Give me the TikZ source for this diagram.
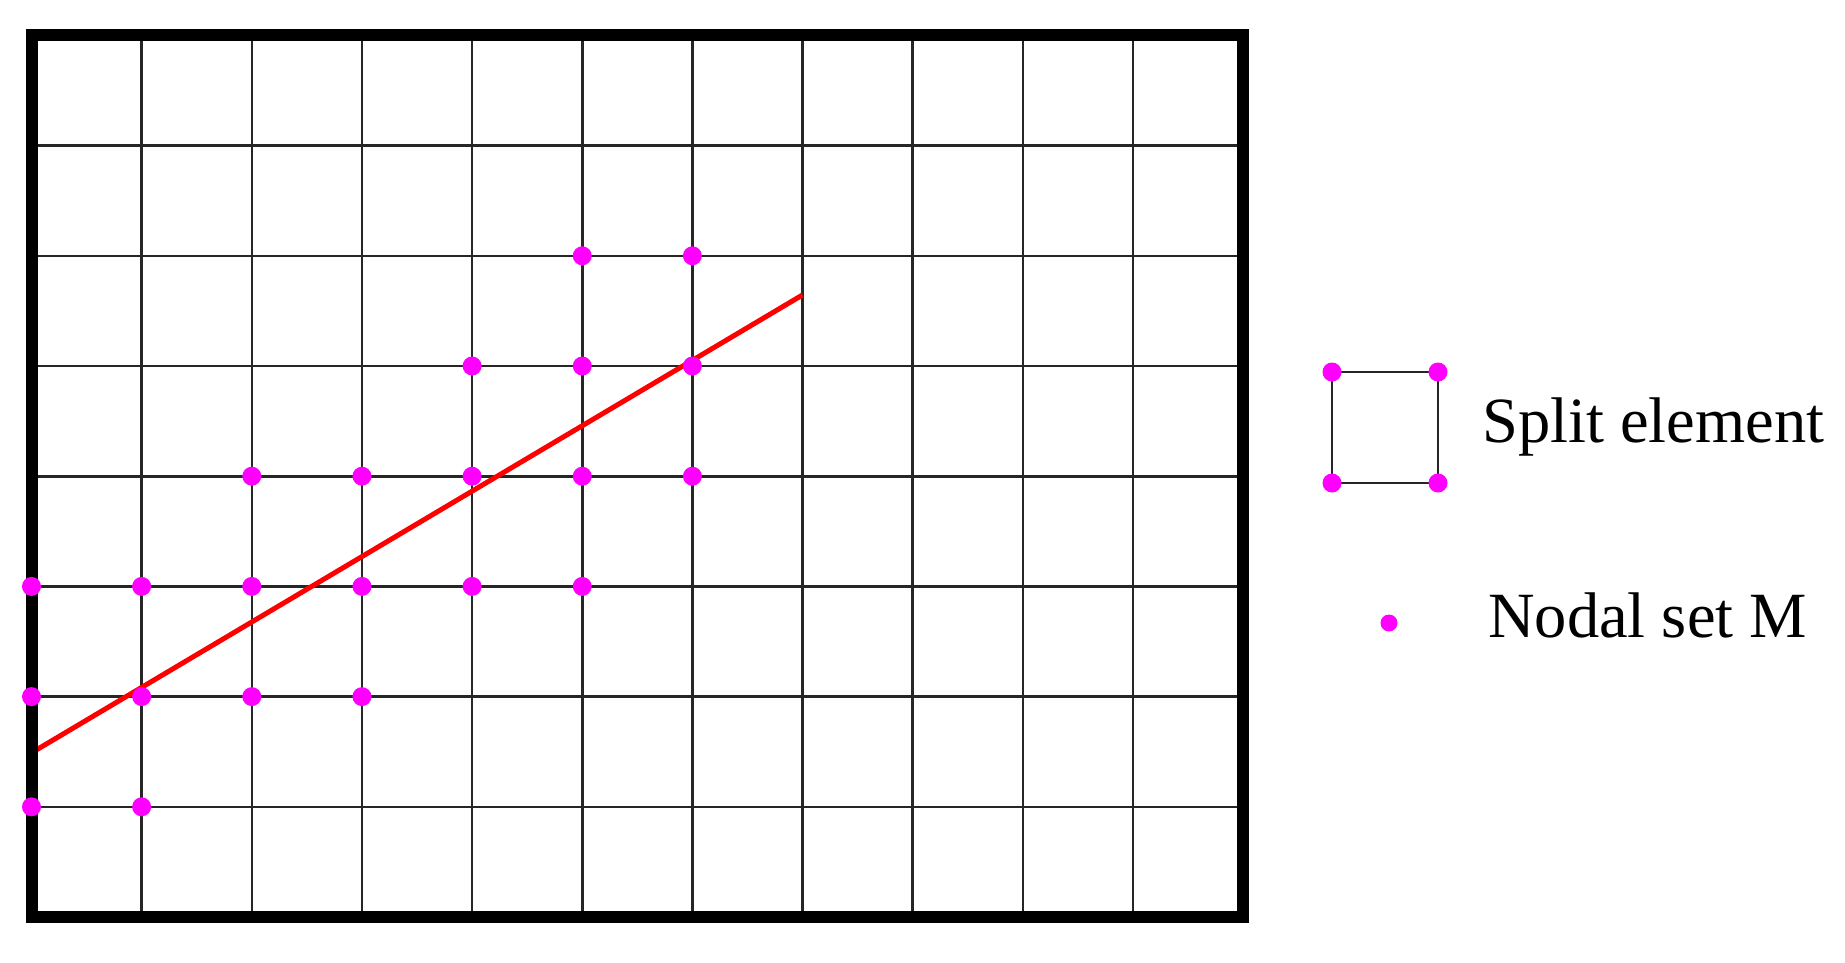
\documentclass[tikz,border=0pt]{standalone}
\usepackage{fontspec}
\setmainfont{Liberation Serif}
\definecolor{nodemag}{RGB}{255,0,255}
\begin{document}
\begin{tikzpicture}[x=1pt,y=-1pt,
  gridline/.style={line width=2.6pt,black!85},
  framebox/.style={line width=12pt,black},
  crack/.style={line width=5pt,red},
  nodedot/.style={circle,fill=nodemag,inner sep=0pt,minimum size=19pt},
  legtext/.style={font=\fontsize{64.5}{77}\selectfont,anchor=base west,inner sep=0pt}]
\useasboundingbox (0,0) rectangle (1845,962);
\begin{scope}[shift={(31.5,917)},x=110.15pt,y=110.2pt]
  \foreach \gx in {1,...,10} \draw[gridline] (\gx,0) -- (\gx,8);
  \foreach \gy in {1,...,7} \draw[gridline] (0,\gy) -- (11,\gy);
  \coordinate (c0) at (0,1.49);
  \coordinate (c1) at (7,5.645);
  \draw[crack] (c0) -- (c1);
  \draw[framebox] (0,0) rectangle (11,8);
  \foreach \px/\py in {5/6,6/6,
                       4/5,5/5,6/5,
                       2/4,3/4,4/4,5/4,6/4,
                       0/3,1/3,2/3,3/3,4/3,5/3,
                       0/2,1/2,2/2,3/2,
                       0/1,1/1}
    \node[nodedot] (m-\px-\py) at (\px,\py) {};
\end{scope}
% legend
\coordinate (s1) at (1332,372);
\coordinate (s2) at (1438,372);
\coordinate (s3) at (1438,483);
\coordinate (s4) at (1332,483);
\draw[gridline] (s1) -- (s2) -- (s3) -- (s4) -- cycle;
\node[nodedot] (l1) at (s1) {};
\node[nodedot] (l2) at (s2) {};
\node[nodedot] (l3) at (s3) {};
\node[nodedot] (l4) at (s4) {};
\node[legtext] (split) at (1482,442) {Split element};
\node[nodedot,minimum size=17pt] (ld) at (1389,623) {};
\node[legtext] (nodal) at (1488,637) {Nodal set M};
\end{tikzpicture}
\end{document}
